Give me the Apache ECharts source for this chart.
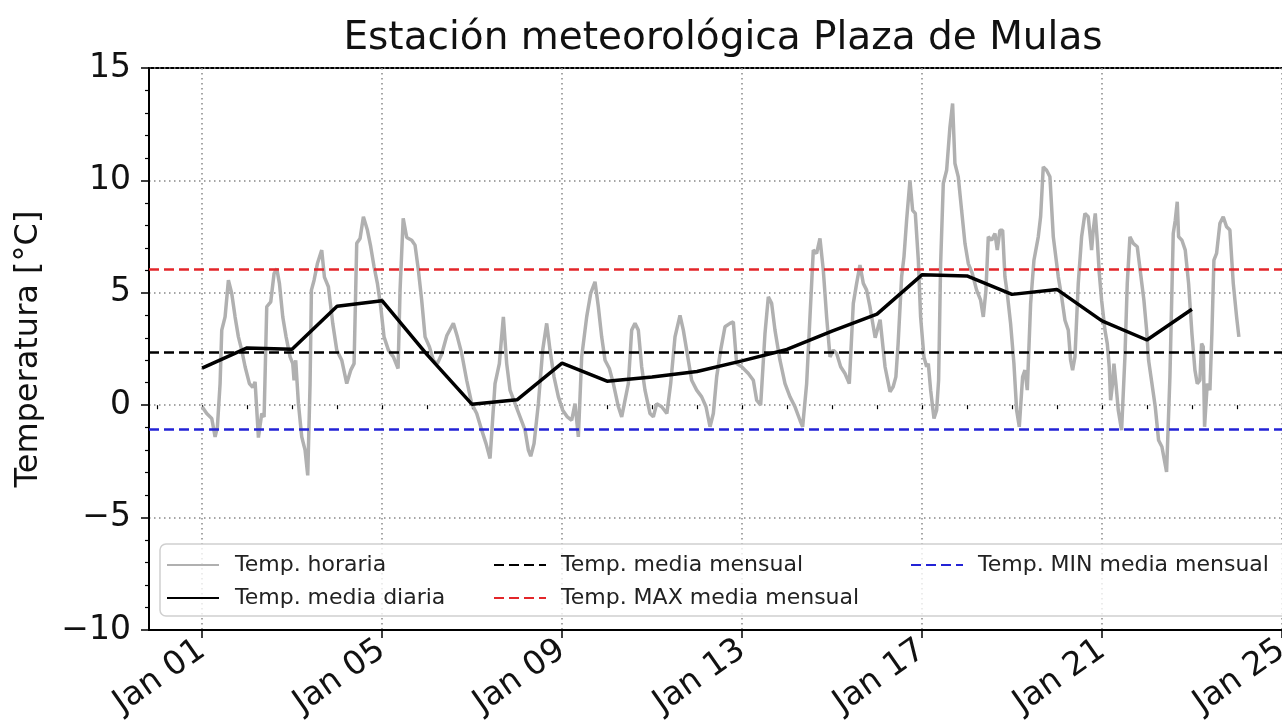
<!DOCTYPE html>
<html><head><meta charset="utf-8">
<script src="https://cdn.jsdelivr.net/npm/echarts@6/dist/echarts.min.js"></script>
<style>html,body{margin:0;padding:0;background:#fff;overflow:hidden;width:1282px;height:728px}#c{width:1310px;height:728px}</style>
</head><body><div id="c"></div>
<script>
// Hourly temperature (time in days since Jan 01 00:00, value in °C)
const hourlyT = [0.0,0.104,0.215,0.289,0.34,0.4,0.437,0.511,0.585,0.659,0.733,0.807,0.881,0.956,1.052,1.126,1.178,1.252,1.326,1.378,1.437,1.526,1.6,1.659,1.719,1.793,1.867,1.956,2.015,2.044,2.081,2.141,2.215,2.289,2.348,2.4,2.43,2.489,2.563,2.659,2.719,2.807,2.904,2.993,3.104,3.215,3.304,3.378,3.437,3.511,3.585,3.674,3.748,3.822,3.896,3.97,4.044,4.141,4.252,4.356,4.4,4.47,4.548,4.659,4.733,4.807,4.881,4.956,5.052,5.141,5.23,5.33,5.44,5.585,5.674,5.77,5.881,5.993,6.104,6.215,6.311,6.4,6.511,6.607,6.696,6.77,6.844,6.956,7.067,7.178,7.252,7.304,7.378,7.474,7.57,7.659,7.733,7.822,7.919,8.015,8.119,8.215,8.289,8.363,8.437,8.548,8.637,8.733,8.807,8.881,8.956,9.052,9.141,9.252,9.326,9.474,9.548,9.622,9.696,9.77,9.844,9.956,10.03,10.104,10.215,10.33,10.415,10.511,10.622,10.696,10.77,10.881,10.993,11.104,11.2,11.289,11.363,11.437,11.526,11.622,11.733,11.807,11.881,11.993,12.141,12.252,12.326,12.415,12.511,12.585,12.659,12.733,12.844,12.956,13.067,13.178,13.289,13.348,13.437,13.511,13.585,13.659,13.733,13.807,13.881,13.956,14.03,14.104,14.193,14.289,14.385,14.474,14.548,14.622,14.696,14.77,14.844,14.96,15.07,15.18,15.29,15.36,15.42,15.47,15.548,15.6,15.659,15.733,15.793,15.852,15.919,15.97,16.044,16.104,16.141,16.193,16.267,16.326,16.37,16.415,16.474,16.548,16.622,16.681,16.733,16.807,16.881,16.956,17.03,17.119,17.215,17.304,17.363,17.422,17.474,17.548,17.622,17.674,17.733,17.793,17.844,17.896,17.97,18.044,18.104,18.163,18.237,18.289,18.341,18.415,18.489,18.585,18.637,18.696,18.77,18.844,18.919,19.03,19.104,19.178,19.252,19.304,19.348,19.4,19.474,19.548,19.622,19.696,19.77,19.807,19.852,19.896,19.941,19.993,20.067,20.119,20.163,20.193,20.237,20.267,20.311,20.363,20.437,20.511,20.563,20.622,20.696,20.785,20.859,20.933,20.993,21.037,21.111,21.185,21.259,21.333,21.437,21.511,21.585,21.63,21.674,21.704,21.778,21.852,21.926,22.0,22.067,22.119,22.178,22.215,22.252,22.281,22.341,22.4,22.444,22.489,22.548,22.622,22.696,22.77,22.844,22.919,22.993,23.044];
const hourlyV = [-0.07,-0.37,-0.59,-1.41,-0.96,0.96,3.34,3.93,5.56,4.97,3.93,3.04,2.45,1.71,0.96,0.79,1.04,-1.44,-0.37,-0.52,4.38,4.6,5.86,6.08,5.42,3.93,3.04,2.15,1.85,1.11,2.0,0.07,-1.41,-2.0,-3.12,0.96,5.12,5.56,6.3,6.9,5.7,5.27,3.64,2.45,2.0,0.96,1.56,1.85,7.2,7.42,8.38,7.79,7.05,6.16,5.42,4.38,3.04,2.45,2.15,1.63,5.12,8.31,7.46,7.34,7.12,6.01,4.67,3.04,2.6,2.0,1.85,2.3,3.1,3.64,3.04,2.3,1.11,0.07,-0.37,-1.11,-1.71,-2.37,0.96,1.85,3.93,1.85,0.67,0.07,-0.52,-1.11,-2.0,-2.27,-1.71,0.07,2.45,3.64,2.45,1.26,0.37,-0.22,-0.52,-0.67,0.07,-1.41,2.15,3.93,4.97,5.49,4.38,3.04,2.0,1.63,0.96,-0.07,-0.52,0.96,3.34,3.64,3.34,1.71,0.67,-0.37,-0.52,0.07,-0.07,-0.37,0.96,3.04,4.0,3.34,2.45,1.11,0.67,0.37,-0.07,-0.96,-0.37,1.26,2.45,3.49,3.64,3.71,1.85,1.71,1.41,1.11,0.22,0.0,3.19,4.82,4.53,3.34,2.0,0.96,0.37,-0.07,-0.67,-0.96,0.96,3.93,6.9,6.75,7.42,6.01,3.93,2.15,2.45,2.3,1.71,1.41,0.96,4.53,5.42,6.23,5.42,5.12,4.38,3.0,3.8,1.7,0.6,0.82,1.26,2.74,5.71,6.6,8.23,10.0,8.67,8.53,6.45,3.93,2.15,1.71,1.85,0.67,-0.59,-0.22,1.11,6.3,9.86,10.45,12.38,13.42,10.75,10.16,8.67,7.19,6.3,5.86,5.12,4.67,3.93,5.12,7.49,7.34,7.64,6.9,7.78,7.78,5.71,4.97,3.63,1.85,-0.22,-0.96,1.26,1.56,0.67,4.52,6.45,7.49,8.38,10.6,10.45,10.16,7.49,5.71,4.82,3.78,3.34,2.0,1.56,2.15,5.42,7.49,8.53,8.38,6.9,7.79,8.53,7.34,5.86,4.67,3.34,2.74,1.71,0.22,0.96,1.85,0.96,-0.22,-1.11,2.15,5.42,7.49,7.2,7.05,5.86,4.67,3.34,2.0,0.96,-0.07,-1.56,-1.85,-2.97,1.26,7.64,8.23,9.05,7.49,7.34,6.9,5.42,3.19,1.56,0.96,1.11,2.74,2.6,-0.96,0.96,0.67,3.19,6.45,6.75,8.09,8.38,7.94,7.79,5.42,3.93,3.04];
// Daily mean temperature, Jan 01 .. Jan 23 (plotted at 00:00 of each day)
const dailyDay = [0,1,2,3,4,5,6,7,8,9,10,11,12,13,14,15,16,17,18,19,20,21,22];
const dailyV = [1.65,2.55,2.49,4.40,4.65,2.25,0.04,0.24,1.87,1.07,1.25,1.50,1.97,2.48,3.30,4.05,5.80,5.75,4.93,5.15,3.75,2.90,4.27];
// Monthly reference lines
const mediaMensual = 2.35;
const maxMediaMensual = 6.05;
const minMediaMensual = -1.07;
// Tick labels
const xTickDays = [0,4,8,12,16,20,24];
const xTickLabels = ['Jan 01','Jan 05','Jan 09','Jan 13','Jan 17','Jan 21','Jan 25'];
const xMinorDays = [-1,0,1,2,3,4,5,6,7,8,9,10,11,12,13,14,15,16,17,18,19,20,21,22,23,24];

const FONT = 'DejaVu Sans';
const chart = echarts.init(document.getElementById('c'), null, {renderer:'canvas'});
const hourly = hourlyT.map((t,i)=>[t, hourlyV[i]]);
const daily = dailyDay.map((d,i)=>[d, dailyV[i]]);
const XMIN = -1.18, XMAX = 24.18;
const dash = [10,5];
function hline(name, value, color){
  return {name, type:'line', data:[], symbol:'none', z:3,
    lineStyle:{color, width:2.5, type:dash}, itemStyle:{color},
    markLine:{silent:true, symbol:'none', label:{show:false}, animation:false,
      lineStyle:{color, width:2.5, type:dash}, emphasis:{disabled:true},
      data:[{yAxis:value}]}};
}
const legendCommon = {orient:'vertical', itemWidth:52, itemHeight:14, itemGap:9, z:10, padding:0,
  itemStyle:{opacity:0, color:'transparent', borderWidth:0},
  textStyle:{fontFamily:FONT, fontSize:22, color:'#222', lineHeight:24}, selectedMode:false};
chart.setOption({
  animation:false,
  title:{text:'Estación meteorológica Plaza de Mulas', left:718, top:14, textAlign:'center',
    textStyle:{fontFamily:FONT, fontSize:39, fontWeight:'normal', color:'#111'}},
  grid:{left:149, top:68, width:1141, height:562, show:true, borderColor:'#000', borderWidth:2, backgroundColor:'transparent'},
  xAxis:[{type:'value', min:XMIN, max:XMAX,
    axisLine:{show:true, onZero:false, lineStyle:{color:'#000', width:2}},
    axisTick:{show:true, length:8, lineStyle:{color:'#000', width:1.5}, customValues:xTickDays},
    axisLabel:{customValues:xTickDays, rotate:35, margin:17, fontFamily:FONT, fontSize:33, color:'#111',
      formatter:(v)=>{const i=xTickDays.indexOf(Math.round(v)); return i>=0?xTickLabels[i]:'';}},
    splitLine:{show:true, lineStyle:{color:'#888', width:1.5, type:[1.5,3.5]}}},
   {type:'value', min:XMIN, max:XMAX, position:'bottom',
    axisLine:{show:false}, axisLabel:{show:false}, splitLine:{show:false},
    axisTick:{show:true, length:4, lineStyle:{color:'#000', width:1.2}, customValues:xMinorDays}}],
  yAxis:{type:'value', min:-10, max:15, interval:5,
    name:'Temperatura [°C]', nameLocation:'middle', nameGap:104, nameRotate:90,
    nameTextStyle:{fontFamily:FONT, fontSize:32, color:'#111'},
    axisLine:{show:true, onZero:false, lineStyle:{color:'#000', width:2}},
    axisTick:{show:true, length:8, lineStyle:{color:'#000', width:1.5}},
    minorTick:{show:true, splitNumber:5, length:4, lineStyle:{color:'#000', width:1.2}},
    axisLabel:{margin:18, fontFamily:FONT, fontSize:33, color:'#111',
      formatter:(v)=> v<0 ? '\u2212'+(-v) : String(v)},
    splitLine:{show:true, lineStyle:{color:'#888', width:1.5, type:[1.5,3.5]}}},
  legend:[
    Object.assign({}, legendCommon, {left:166, top:553, data:['Temp. horaria','Temp. media diaria'],
      textStyle:Object.assign({}, legendCommon.textStyle, {padding:[0,0,0,11]})}),
    Object.assign({}, legendCommon, {left:493, top:553, data:['Temp. media mensual','Temp. MAX media mensual'],
      textStyle:Object.assign({}, legendCommon.textStyle, {padding:[0,0,0,10]})}),
    Object.assign({}, legendCommon, {left:910, top:553, data:['Temp. MIN media mensual'],
      textStyle:Object.assign({}, legendCommon.textStyle, {padding:[0,0,0,10]})})
  ],
  graphic:[{type:'rect', z:8, shape:{x:160, y:544, width:1200, height:72, r:6},
    style:{fill:'rgba(255,255,255,0.8)', stroke:'#cfcfcf', lineWidth:1.5}}],
  series:[
    {name:'Temp. horaria', type:'line', data:hourly, showSymbol:false, symbol:'none', z:2,
      lineStyle:{color:'#b0b0b0', width:3.5}, itemStyle:{color:'#b0b0b0'}},
    {name:'Temp. media diaria', type:'line', data:daily, showSymbol:false, symbol:'none', z:4,
      lineStyle:{color:'#000', width:3.5}, itemStyle:{color:'#000'}},
    hline('Temp. media mensual', mediaMensual, '#000'),
    hline('Temp. MAX media mensual', maxMediaMensual, '#e3262a'),
    hline('Temp. MIN media mensual', minMediaMensual, '#2323d6')
  ]
});
</script></body></html>
